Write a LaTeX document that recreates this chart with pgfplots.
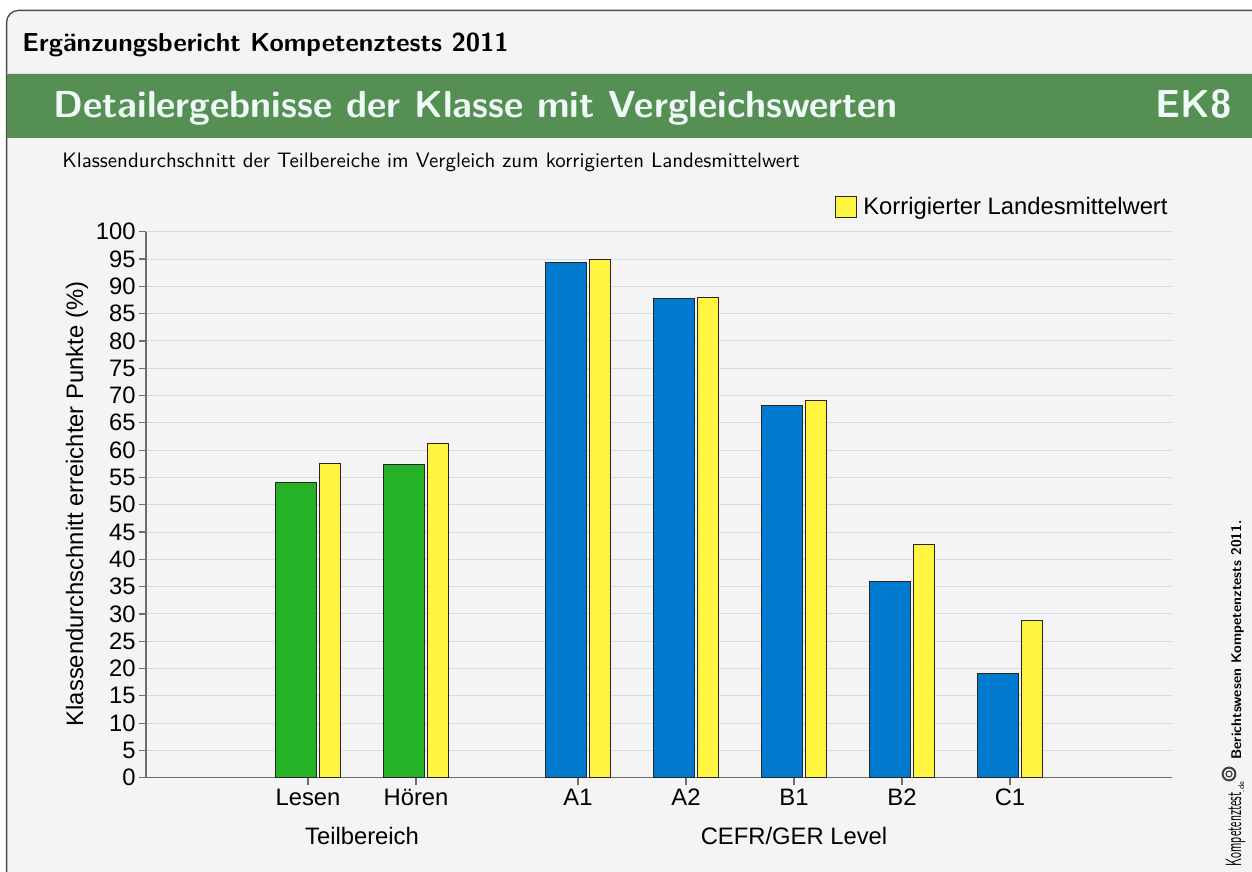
\documentclass[border=0pt]{standalone}
\usepackage{fontspec}
\setmainfont{Liberation Sans}
\usepackage{pgfplots}
\pgfplotsset{compat=1.18}
\pgfplotsset{sqlegend/.style={legend image code/.code={\draw[##1] (0pt,-5.25pt) rectangle (10.5pt,5.25pt);}}}
\definecolor{bg}{HTML}{F4F4F4}
\definecolor{band}{HTML}{568F54}
\definecolor{gbar}{HTML}{26B226}
\definecolor{bbar}{HTML}{007ACC}
\definecolor{ybarc}{HTML}{FFF540}
\definecolor{gridc}{HTML}{CCDCF4}
\definecolor{axc}{HTML}{6E6E6E}
\definecolor{titlec}{HTML}{EEFAF6}
\begin{document}
\begin{tikzpicture}
\useasboundingbox (0,0) rectangle (626pt,-436pt);
\fill[white] (0,0) rectangle (626pt,-436pt);
\draw[fill=bg, draw=black!70, line width=0.7pt, rounded corners=6pt] (3.3pt,-5.2pt) rectangle (640pt,-450pt);
\fill[band] (3.65pt,-37pt) rectangle (626pt,-69pt);
\draw[black!12, line width=0.6pt] (3.65pt,-36.8pt) -- (626pt,-36.8pt);
\node[anchor=base west, inner sep=0pt, font=\sffamily\bfseries\fontsize{13}{15}\selectfont] at (11pt,-26pt) {Ergänzungsbericht Kompetenztests 2011};
\node[anchor=base west, inner sep=0pt, text=titlec, font=\sffamily\bfseries\fontsize{18.8}{21}\selectfont] at (26.5pt,-59pt) {Detailergebnisse der Klasse mit Vergleichswerten};
\node[anchor=base east, inner sep=0pt, text=titlec, font=\sffamily\bfseries\fontsize{19.5}{21}\selectfont] at (616pt,-59pt) {EK8};
\node[anchor=base west, inner sep=0pt, font=\sffamily\fontsize{10.45}{12}\selectfont] at (31pt,-84pt) {Klassendurchschnitt der Teilbereiche im Vergleich zum korrigierten Landesmittelwert};
\node[rotate=90, anchor=base, inner sep=0pt, font=\sffamily\bfseries\fontsize{7}{8}\selectfont] at (620.5pt,-320pt) {Berichtswesen Kompetenztests 2011.};
\node[rotate=90, anchor=base, inner sep=0pt, font=\sffamily\fontsize{11}{12}\selectfont] at (620.5pt,-412pt) {\scalebox{0.55}[1]{Kompetenztest}\raisebox{-1.5pt}{\fontsize{4}{5}\selectfont .de}};
\draw[black!75, line width=1pt] (614.5pt,-387pt) circle (3.2pt);
\draw[black!75, line width=0.6pt] (614.5pt,-387pt) circle (1.5pt);
\begin{axis}[
  at={(73pt,-388.85pt)}, anchor=south west,
  scale only axis, width=513pt, height=273pt,
  xmin=-1.5, xmax=8, ymin=0, ymax=100,
  axis lines*=left,
  axis line style={axc, line width=0.7pt},
  ytick={0,5,...,100},
  xtick={0,1,2.5,3.5,4.5,5.5,6.5},
  xticklabels={Lesen,Hören,A1,A2,B1,B2,C1},
  tick align=outside,
  major tick length=3.5pt,
  tick style={axc, line width=0.6pt},
  ymajorgrids,
  grid style={gridc, line width=0.5pt},
  ticklabel style={font=\fontsize{11.9}{13.5}\selectfont},
  yticklabel style={inner sep=1.5pt},
  xticklabel style={inner sep=2pt},
  /pgf/number format/assume math mode=true,
  clip=false,
  legend style={at={(rel axis cs:1,1)}, anchor=south east, yshift=5pt, draw=none, fill=none, inner sep=0pt, font=\fontsize{11.9}{13.5}\selectfont, legend cell align=left, /tikz/every odd column/.append style={column sep=1pt}},
]
\addplot[ybar, bar width=0.38, bar shift=-0.109, fill=gbar, draw=black!85, line width=0.5pt, forget plot]
  coordinates {(0,54.0) (1,57.3)};
\addplot[ybar, bar width=0.38, bar shift=-0.109, fill=bbar, draw=black!85, line width=0.5pt, forget plot]
  coordinates {(2.5,94.4) (3.5,87.8) (4.5,68.2) (5.5,36.0) (6.5,19.0)};
\addplot[ybar, bar width=0.198, bar shift=0.204, fill=ybarc, draw=black!85, line width=0.5pt, sqlegend]
  coordinates {(0,57.5) (1,61.3) (2.5,95.0) (3.5,87.9) (4.5,69.1) (5.5,42.7) (6.5,28.75)};
\addlegendentry{Korrigierter Landesmittelwert}
\node[anchor=base, font=\fontsize{11.9}{13.5}\selectfont] at (axis cs:0.5,0) [yshift=-33.2pt] {Teilbereich};
\node[anchor=base, font=\fontsize{11.9}{13.5}\selectfont] at (axis cs:4.5,0) [yshift=-33.2pt] {CEFR/GER Level};
\end{axis}
\node[rotate=90, anchor=center, font=\fontsize{11.9}{13.5}\selectfont] at (38.5pt,-252pt) {Klassendurchschnitt erreichter Punkte (\%)};
\end{tikzpicture}
\end{document}
